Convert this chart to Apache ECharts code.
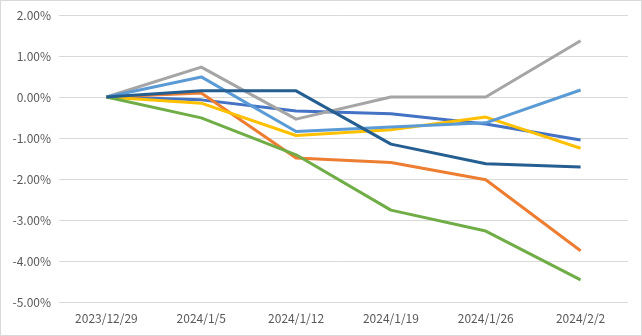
<!DOCTYPE html>
<html>
<head>
<meta charset="utf-8">
<script src="https://cdn.jsdelivr.net/npm/echarts@6/dist/echarts.min.js"></script>
<style>
html,body{margin:0;padding:0;background:#fff;}
#wrap{position:absolute;left:0;top:0;width:640px;height:334px;border:1px solid #D9D9D9;}
#c{width:640px;height:334px;}
</style>
</head>
<body>
<div id="wrap"><div id="c"></div></div>
<script>
var categories = ['2023/12/29','2024/1/5','2024/1/12','2024/1/19','2024/1/26','2024/2/2'];
var yTicks = [-5,-4,-3,-2,-1,0,1,2];
var s1 = [0, -0.07, -0.34, -0.41, -0.66, -1.05];
var s2 = [0, 0.10, -1.49, -1.60, -2.02, -3.75];
var s3 = [0, 0.73, -0.54, 0.00, 0.00, 1.37];
var s4 = [0, -0.15, -0.94, -0.80, -0.49, -1.25];
var s5 = [0, 0.49, -0.84, -0.73, -0.63, 0.17];
var s6 = [0, -0.51, -1.41, -2.76, -3.27, -4.46];
var s7 = [0, 0.15, 0.15, -1.15, -1.63, -1.71];
var colors = ['#4472C4','#ED7D31','#A5A5A5','#FFC000','#5B9BD5','#70AD47','#255E91'];
var seriesData = [s1,s2,s3,s4,s5,s6,s7];

var chart = echarts.init(document.getElementById('c'));
var font = '"Microsoft YaHei","Noto Sans CJK SC","DejaVu Sans",sans-serif';
chart.setOption({
  animation:false,
  grid:{left:58,right:13,top:14,bottom:33,containLabel:false},
  xAxis:{
    type:'category',
    data:categories,
    boundaryGap:true,
    axisLine:{show:false},
    axisTick:{show:false},
    axisLabel:{color:'#595959',fontSize:12,fontFamily:font,margin:10}
  },
  yAxis:{
    type:'value',
    min:yTicks[0],max:yTicks[yTicks.length-1],interval:1,
    axisLine:{show:false},
    axisTick:{show:false},
    splitLine:{lineStyle:{color:'#D9D9D9',width:1}},
    axisLabel:{color:'#595959',fontSize:12,fontFamily:font,margin:8,
      formatter:function(v){return v.toFixed(2)+'%';}}
  },
  series:seriesData.map(function(d,i){
    return {type:'line',data:d,symbol:'none',
      lineStyle:{color:colors[i],width:3,join:'round'},
      itemStyle:{color:colors[i]}};
  })
});
</script>
</body>
</html>
